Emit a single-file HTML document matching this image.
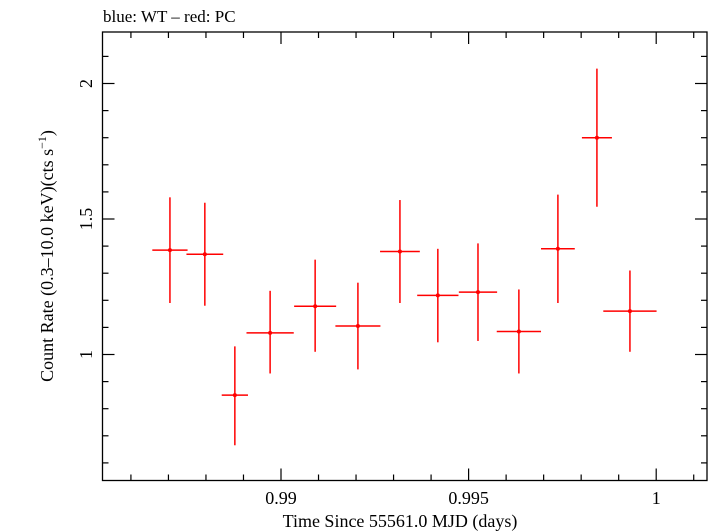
<!DOCTYPE html>
<html><head><meta charset="utf-8"><style>
body{margin:0;background:#fff}
svg{display:block;font-family:"Liberation Serif",serif}
</style></head><body>
<svg id="chart" width="709" height="532" xmlns="http://www.w3.org/2000/svg">
<text x="103" y="22" font-size="17">blue: WT – red: PC</text>
<g id="axes"></g><g id="marks"></g>
<text x="400" y="527" font-size="18" text-anchor="middle">Time Since 55561.0 MJD (days)</text>
<text transform="translate(53,256) rotate(-90)" font-size="18" text-anchor="middle">Count Rate (0.3–10.0 keV)(cts s<tspan dy="-7" font-size="12">−1</tspan><tspan dy="7">)</tspan></text>
</svg>
<script>
const times=[0.98704,0.98797,0.98877,0.98971,0.99091,0.99205,0.99317,0.99418,0.99525,0.99634,0.99738,0.99842,0.99930];
const halfWidths=[0.00047,0.00049,0.00035,0.00063,0.00056,0.0006,0.00053,0.00055,0.00051,0.00059,0.00045,0.0004,0.00071];
const rates=[1.385,1.37,0.85,1.08,1.178,1.105,1.38,1.218,1.23,1.085,1.39,1.80,1.16];
const errLow=[1.19,1.18,0.665,0.93,1.01,0.945,1.19,1.045,1.05,0.93,1.19,1.545,1.01];
const errHigh=[1.58,1.56,1.03,1.235,1.35,1.265,1.57,1.39,1.41,1.24,1.59,2.055,1.31];
const xTickLabels=["0.99","0.995","1"];
const yTickLabels=["1","1.5","2"];
const L=102.5,R=707,T=32,B=480.5;
const X=v=>281+(v-0.99)*37520;
const Y=v=>354.5-(v-1)*271;
const NS="http://www.w3.org/2000/svg";
function mk(tag,attrs,parent){const e=document.createElementNS(NS,tag);for(const k in attrs)e.setAttribute(k,attrs[k]);parent.appendChild(e);return e;}
const ax=document.getElementById('axes'),mg=document.getElementById('marks');
const fr=mk('rect',{x:L,y:T,width:R-L,height:B-T,fill:'none',stroke:'#000','stroke-width':1.3},ax);


for(let i=-5;i<=13;i++){const v=0.99+i*0.001;const x=X(v);if(x<L||x>R)continue;const len=i%5===0?12:6;
const t1=mk('line',{x1:x,x2:x,y1:B,y2:B-len,stroke:'#000','stroke-width':1.2},ax);
const t2=mk('line',{x1:x,x2:x,y1:T,y2:T+len,stroke:'#000','stroke-width':1.2},ax);}
xTickLabels.forEach(s=>{const t=mk('text',{x:X(parseFloat(s)),y:504,'font-size':18,'text-anchor':'middle'},ax);t.textContent=s;});
for(let i=-4;i<=13;i++){const v=1+i*0.1;const y=Y(v);if(y<T||y>B)continue;const len=i%5===0?12:6;
const t1=mk('line',{x1:L,x2:L+len,y1:y,y2:y,stroke:'#000','stroke-width':1.2},ax);
const t2=mk('line',{x1:R,x2:R-len,y1:y,y2:y,stroke:'#000','stroke-width':1.2},ax);}
yTickLabels.forEach(s=>{const y=Y(parseFloat(s));const t=mk('text',{transform:`translate(92,${y}) rotate(-90)`,'font-size':18,'text-anchor':'middle'},ax);t.textContent=s;});
times.forEach((t,i)=>{const g=mk('g',{stroke:'#f00','stroke-width':1.5},mg);


mk('line',{x1:X(t-halfWidths[i]),x2:X(t+halfWidths[i]),y1:Y(rates[i]),y2:Y(rates[i])},g);
mk('line',{x1:X(t),x2:X(t),y1:Y(errLow[i]),y2:Y(errHigh[i])},g);
mk('circle',{cx:X(t),cy:Y(rates[i]),r:2,fill:'#f00',stroke:'none'},g);});
</script>
</body></html>
